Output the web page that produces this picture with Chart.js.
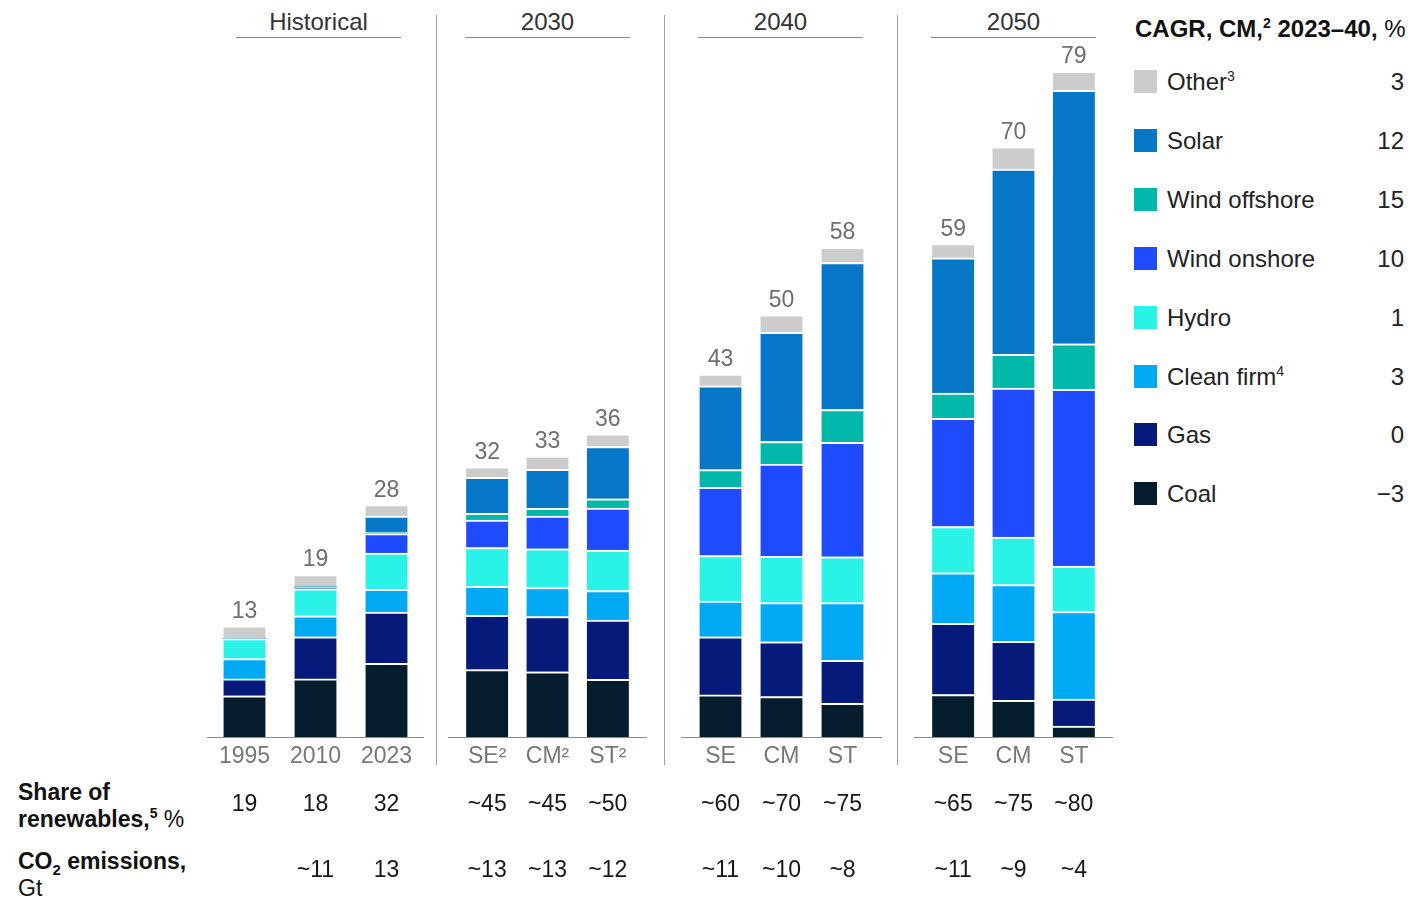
<!DOCTYPE html>
<html>
<head>
<meta charset="utf-8">
<script src="https://cdn.jsdelivr.net/npm/chart.js@4"></script>
<style>
  body { margin: 0; width: 1421px; height: 897px; position: relative; background: #fff; overflow: hidden;
         font-family: "Liberation Sans", Arial, sans-serif; }
  .abs { position: absolute; }
  .hdr { position: absolute; top: 8px; height: 29px; font-size: 24px; line-height: 28px; color: #333;
         text-align: center; border-bottom: 1px solid #8a8a8a; }
  .vline { position: absolute; top: 15px; width: 1px; height: 750px; background: #a0a0a0; }
  .lab { position: absolute; left: 18px; font-size: 23px; line-height: 27px; color: #111; }
  .lab b { font-weight: bold; }
  sup { font-size: 14px; line-height: 0; vertical-align: 9px; }
  .leg { position: absolute; left: 1134px; width: 270px; height: 24px; font-size: 24px; line-height: 24px; color: #222; }
  .leg .sw { position: absolute; left: 0; top: 0; width: 23px; height: 23px; }
  .leg .nm { position: absolute; left: 33px; top: 0; }
  .leg .vl { position: absolute; right: 0; top: 0; }
</style>
</head>
<body>

<div class="hdr" style="left:236px; width:165px;">Historical</div>
<div class="hdr" style="left:465px; width:165px;">2030</div>
<div class="hdr" style="left:698px; width:165px;">2040</div>
<div class="hdr" style="left:931px; width:165px;">2050</div>

<div class="vline" style="left:436px;"></div>
<div class="vline" style="left:664px;"></div>
<div class="vline" style="left:897px;"></div>

<div class="lab" style="top:779px;"><b>Share of<br>renewables,<sup>5</sup></b> %</div>
<div class="lab" style="top:848px;"><b>CO<sub style="font-size:15px;line-height:0;">2</sub> emissions,</b><br>Gt</div>

<div class="abs" style="left:1135px; top:14px; font-size:24px; line-height:30px; color:#111; white-space:nowrap;">
  <b>CAGR, CM,<sup>2</sup> 2023–40,</b> %
</div>
<div id="legend"></div>

<canvas id="c0" class="abs"></canvas>
<canvas id="c1" class="abs"></canvas>
<canvas id="c2" class="abs"></canvas>
<canvas id="c3" class="abs"></canvas>

<script>
// 막대 라벨 (12개)
const barLabels = ['1995', '2010', '2023', 'SE²', 'CM²', 'ST²', 'SE', 'CM', 'ST', 'SE', 'CM', 'ST'];

// 발전원별 값 (아래에서 위 순서로 쌓임)
const coal         = [4.9, 6.9, 8.75, 8.0, 7.75, 6.85, 5.0, 4.8, 4.0, 5.05, 4.35, 1.3];
const gas          = [2.0, 5.0, 6.1, 6.45, 6.55, 7.05, 6.9, 6.5, 5.1, 8.45, 7.0, 3.2];
const cleanFirm    = [2.4, 2.5, 2.7, 3.45, 3.45, 3.5, 4.25, 4.65, 6.85, 6.0, 6.75, 10.4];
const hydro        = [2.4, 3.2, 4.3, 4.6, 4.6, 4.8, 5.4, 5.5, 5.45, 5.5, 5.65, 5.4];
const windOnshore  = [0, 0.2, 2.3, 3.25, 3.9, 5.0, 8.1, 10.95, 13.6, 12.85, 17.7, 21.0];
const windOffshore = [0, 0, 0.2, 0.8, 0.9, 1.1, 2.1, 2.7, 3.9, 3.0, 4.0, 5.4];
const solar        = [0, 0, 1.9, 4.3, 4.65, 6.2, 9.95, 12.95, 17.45, 16.05, 22.0, 30.1];
const other        = [1.5, 1.5, 1.35, 1.25, 1.55, 1.5, 1.4, 2.1, 1.8, 1.7, 2.65, 2.25];

// 막대 위 합계, 아래 표 값
const totals     = ['13', '19', '28', '32', '33', '36', '43', '50', '58', '59', '70', '79'];
const renewShare = ['19', '18', '32', '~45', '~45', '~50', '~60', '~70', '~75', '~65', '~75', '~80'];
const co2        = ['', '~11', '13', '~13', '~13', '~12', '~11', '~10', '~8', '~11', '~9', '~4'];

// 범례 (위에서 아래 순서)
const legendNames = ['Other<sup>3</sup>', 'Solar', 'Wind offshore', 'Wind onshore', 'Hydro', 'Clean firm<sup>4</sup>', 'Gas', 'Coal'];
const cagr        = ['3', '12', '15', '10', '1', '3', '0', '−3'];

const FONT = '"Liberation Sans", Arial, sans-serif';

const series = [
  { name: 'Coal',          values: coal,         color: '#051c2c' },
  { name: 'Gas',           values: gas,          color: '#061a79' },
  { name: 'Clean firm',    values: cleanFirm,    color: '#00a9f4' },
  { name: 'Hydro',         values: hydro,        color: '#2bf2e6' },
  { name: 'Wind onshore',  values: windOnshore,  color: '#1f4bff' },
  { name: 'Wind offshore', values: windOffshore, color: '#00b8aa' },
  { name: 'Solar',         values: solar,        color: '#0677c6' },
  { name: 'Other',         values: other,        color: '#cccccc' }
];

// 범례 그리기
const legendBox = document.getElementById('legend');
legendNames.forEach(function(nm, k) {
  const s = series[series.length - 1 - k];
  const d = document.createElement('div');
  d.className = 'leg';
  d.style.top = (70 + k * 58.9) + 'px';
  d.innerHTML = '<div class="sw" style="background:' + s.color + '"></div>' +
                '<div class="nm">' + nm + '</div><div class="vl">' + cagr[k] + '</div>';
  legendBox.appendChild(d);
});

// 합계 라벨, 기준선, 아래 표 값
const extras = {
  id: 'extras',
  afterDraw(chart) {
    const o = chart.options.plugins.extras;
    const ctx = chart.ctx, xs = chart.scales.x, ys = chart.scales.y, area = chart.chartArea;
    ctx.save();
    ctx.strokeStyle = '#8c8c8c';
    ctx.lineWidth = 1;
    const by = Math.round(area.bottom) + 0.5;
    ctx.beginPath();
    ctx.moveTo(area.left - o.ext, by);
    ctx.lineTo(area.right + o.ext, by);
    ctx.stroke();

    ctx.font = '23px ' + FONT;
    ctx.textAlign = 'center';
    o.idx.forEach(function(i, k) {
      const cx = xs.getPixelForValue(k);
      let sum = 0;
      chart.data.datasets.forEach(function(d) { sum += d.data[k]; });
      ctx.fillStyle = '#6e6e6e';
      ctx.textBaseline = 'alphabetic';
      ctx.fillText(totals[i], cx, ys.getPixelForValue(sum) - 8);
      ctx.fillStyle = '#161616';
      ctx.textBaseline = 'middle';
      ctx.fillText(renewShare[i], cx, area.bottom + 68);
      ctx.fillText(co2[i], cx, area.bottom + 134);
    });
    ctx.restore();
  }
};

// 그룹별 차트 (위치: 차트 영역 왼쪽, 폭, 기준선 연장)
const groups = [
  { idx: [0, 1, 2],   left: 209, width: 213, ext: 2 },
  { idx: [3, 4, 5],   left: 457, width: 181, ext: 9 },
  { idx: [6, 7, 8],   left: 690, width: 183, ext: 9 },
  { idx: [9, 10, 11], left: 923, width: 181, ext: 9 }
];
const PAD = 12;

groups.forEach(function(g, n) {
  const cv = document.getElementById('c' + n);
  cv.width = g.width + PAD * 2;
  cv.height = 897;
  cv.style.left = (g.left - PAD) + 'px';
  cv.style.top = '0px';

  new Chart(cv, {
    type: 'bar',
    data: {
      labels: g.idx.map(function(i) { return barLabels[i]; }),
      datasets: series.map(function(s) {
        return {
          label: s.name,
          data: g.idx.map(function(i) { return s.values[i]; }),
          backgroundColor: s.color,
          borderColor: '#ffffff',
          borderWidth: { top: 2, right: 0, bottom: 0, left: 0 },
          barThickness: 42,
          stack: 'mix'
        };
      })
    },
    options: {
      responsive: false,
      animation: false,
      events: [],
      layout: { padding: { top: 63.4, bottom: 120, left: PAD, right: PAD } },
      plugins: {
        legend: { display: false },
        tooltip: { enabled: false },
        extras: { idx: g.idx, ext: g.ext }
      },
      scales: {
        x: {
          stacked: true,
          grid: { display: false, drawTicks: false },
          border: { display: false },
          ticks: { color: '#777', font: { size: 23, family: FONT }, padding: 6, maxRotation: 0 },
          afterFit: function(s) { s.height = 40; }
        },
        y: { stacked: true, display: false, min: 0, max: 80 }
      }
    },
    plugins: [extras]
  });
});
</script>
</body>
</html>
